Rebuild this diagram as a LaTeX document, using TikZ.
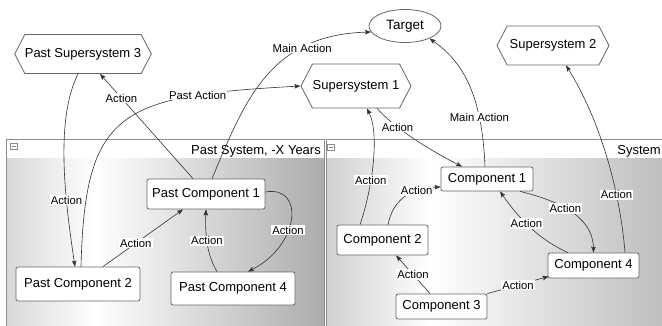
\documentclass[tikz,border=0pt]{standalone}
\usepackage{fontspec}
\setmainfont{Liberation Sans}
\usetikzlibrary{shapes.geometric,shapes.symbols,arrows.meta,calc}

\definecolor{boxc}{HTML}{666666}
\definecolor{linec}{HTML}{333333}
\definecolor{frame}{HTML}{8C8C8C}
\definecolor{pastL}{HTML}{D8D8D8}
\definecolor{pastR}{HTML}{ACACAC}
\definecolor{sysL}{HTML}{D0D0D0}
\definecolor{sysR}{HTML}{B4B4B4}

% body gradients of the two system panels (light left, white near a third, darker right)
\pgfdeclarehorizontalshading{pastshade}{100bp}{color(0bp)=(pastL); color(25bp)=(pastL); color(39bp)=(white); color(75bp)=(pastR); color(100bp)=(pastR)}
\pgfdeclarehorizontalshading{sysshade}{100bp}{color(0bp)=(sysL); color(25bp)=(sysL); color(39bp)=(white); color(75bp)=(sysR); color(100bp)=(sysR)}

\begin{document}
\begin{tikzpicture}[x=1pt,y=-1pt,
  comp/.style={draw=boxc, fill=white, rounded corners=2pt, line width=0.8pt,
    inner sep=0pt, font=\fontsize{13}{15}\selectfont},
  hexa/.style={signal, signal to=west and east, signal pointer angle=125,
    draw=boxc, fill=white, line width=0.8pt, inner sep=0pt,
    font=\fontsize{13}{15}\selectfont},
  lbl/.style={fill=white, inner sep=1pt, font=\fontsize{11.3}{13}\selectfont},
  ln/.style={draw=linec, line width=0.6pt},
  arr/.style={ln, -{Stealth[length=6pt,width=4.5pt,inset=1pt]}},
  paneltitle/.style={font=\fontsize{13}{15}\selectfont, inner sep=0pt},
  minusbox/.style={draw=frame, fill=white, line width=0.5pt}
]
\useasboundingbox (0,0) rectangle (662,325);
\clip (0,0) rectangle (662,325);

% ---- panels ----
\shade[shading=pastshade] (6,158) rectangle (324.5,330);
\fill[white] (6,139) rectangle (324.5,158);
\draw[frame, line width=0.8pt] (6,330) -- (6,139) -- (324.5,139) -- (324.5,330);
\shade[shading=sysshade] (326,158) rectangle (700,330);
\fill[white] (326,139) rectangle (700,158);
\draw[frame, line width=0.8pt] (326,330) -- (326,139) -- (700,139);
\node[paneltitle, anchor=base east] (pasttitle) at (321,154.5) {Past System, -X Years};
\node[paneltitle, anchor=base east] (systitle) at (661,154.5) {System};
\draw[minusbox] (10,143) rectangle (17,149);
\draw[frame, line width=0.6pt] (11.5,146) -- (15.5,146);
\draw[minusbox] (327,144) rectangle (334,150);
\draw[frame, line width=0.6pt] (328.5,147) -- (332.5,147);

% ---- nodes ----
\node[hexa, minimum width=134pt, minimum height=39pt] (ps3) at (83,54) {Past Supersystem 3};
\node[ellipse, draw=boxc, fill=white, line width=0.8pt, inner sep=0pt,
      minimum width=72pt, minimum height=33pt, font=\fontsize{13.5}{15}\selectfont] (tgt) at (405,26) {Target};
\node[hexa, minimum width=112pt, minimum height=39pt] (ss2) at (553,45.5) {Supersystem 2};
\node[hexa, minimum width=110pt, minimum height=44pt] (ss1) at (356,86) {Supersystem 1};

\node[comp, minimum width=118pt, minimum height=30pt] (pc1) at (206,194) {Past Component 1};
\node[comp, minimum width=124pt, minimum height=34pt] (pc2) at (78,284) {Past Component 2};
\node[comp, minimum width=124pt, minimum height=33pt] (pc4) at (233,288.5) {Past Component 4};

\node[comp, minimum width=92pt, minimum height=24pt] (c1) at (487,179) {Component 1};
\node[comp, minimum width=91pt, minimum height=30pt] (c2) at (382.5,240) {Component 2};
\node[comp, minimum width=91pt, minimum height=25pt] (c3) at (441.5,306.5) {Component 3};
\node[comp, minimum width=91pt, minimum height=25pt] (c4) at (593.5,265.5) {Component 4};

% ---- connectors ----
% past system
\draw[arr] ($(ps3.south)+(-5,0)$) .. controls (55,120) and (65,200) .. ($(pc2.north)+(-3,0)$)
  node[lbl, pos=0.68] {Action};
\draw[arr] ($(pc2.north)+(3,0)$) .. controls (85,110) and (120,96) .. (ss1.west)
  node[lbl, pos=0.77] {Past Action};
\draw[arr] ($(pc1.north)+(-13,0)$) -- ($(ps3.south)+(17,0)$)
  node[lbl, pos=0.77] {Action};
\draw[arr] ($(pc1.north)+(6,0)$) .. controls (245,100) and (270,35) .. (tgt.190)
  node[lbl, pos=0.72] {Main Action};
\draw[arr] ($(pc2.north)+(25,0)$) -- ($(pc1.south)+(-23,0)$)
  node[lbl, pos=0.41] {Action};
\draw[arr] ($(pc4.north)+(-16,0)$) .. controls (207,255) and (205,235) .. (pc1.south)
  node[lbl, pos=0.55] {Action};
\draw[arr] ($(pc1.east)+(0,-2)$) .. controls (305,185) and (300,245) .. ($(pc4.north)+(15,0)$)
  node[lbl, pos=0.6] {Action};

% present system
\draw[arr] ($(ss1.south)+(21,0)$) .. controls (392,125) and (420,145) .. ($(c1.north)+(-25,0)$)
  node[lbl, pos=0.35] {Action};
\draw[arr] ($(c2.north)+(-22.5,0)$) .. controls (372,190) and (380,135) .. ($(ss1.south)+(11,0)$)
  node[lbl, pos=0.37] {Action};
\draw[arr] ($(c2.north)+(5.5,0)$) .. controls (393,200) and (410,188) .. ($(c1.west)+(0,8)$)
  node[lbl, pos=0.7] {Action};
\draw[arr] ($(c3.north)+(-11.5,0)$) -- ($(c2.south)+(13.5,0)$)
  node[lbl, pos=0.5] {Action};
\draw[arr] (c3.north east) -- ($(c4.south west)+(1,-2)$)
  node[lbl, pos=0.5] {Action};
\draw[arr] ($(c1.south)+(33,0)$) .. controls (555,200) and (593,215) .. (c4.north)
  node[lbl, pos=0.45] {Action};
\draw[arr] ($(c4.north)+(-25.5,0)$) .. controls (540,240) and (520,220) .. ($(c1.south)+(13,0)$)
  node[lbl, pos=0.57] {Action};
\draw[arr] ($(c4.north)+(31.5,0)$) .. controls (620,190) and (600,120) .. ($(ss2.south)+(13,0)$)
  node[lbl, pos=0.3] {Action};
\draw[arr] ($(c1.north)+(-2,0)$) .. controls (482,90) and (460,60) .. (tgt.-27)
  node[lbl, pos=0.25] {Main Action};
\end{tikzpicture}
\end{document}
